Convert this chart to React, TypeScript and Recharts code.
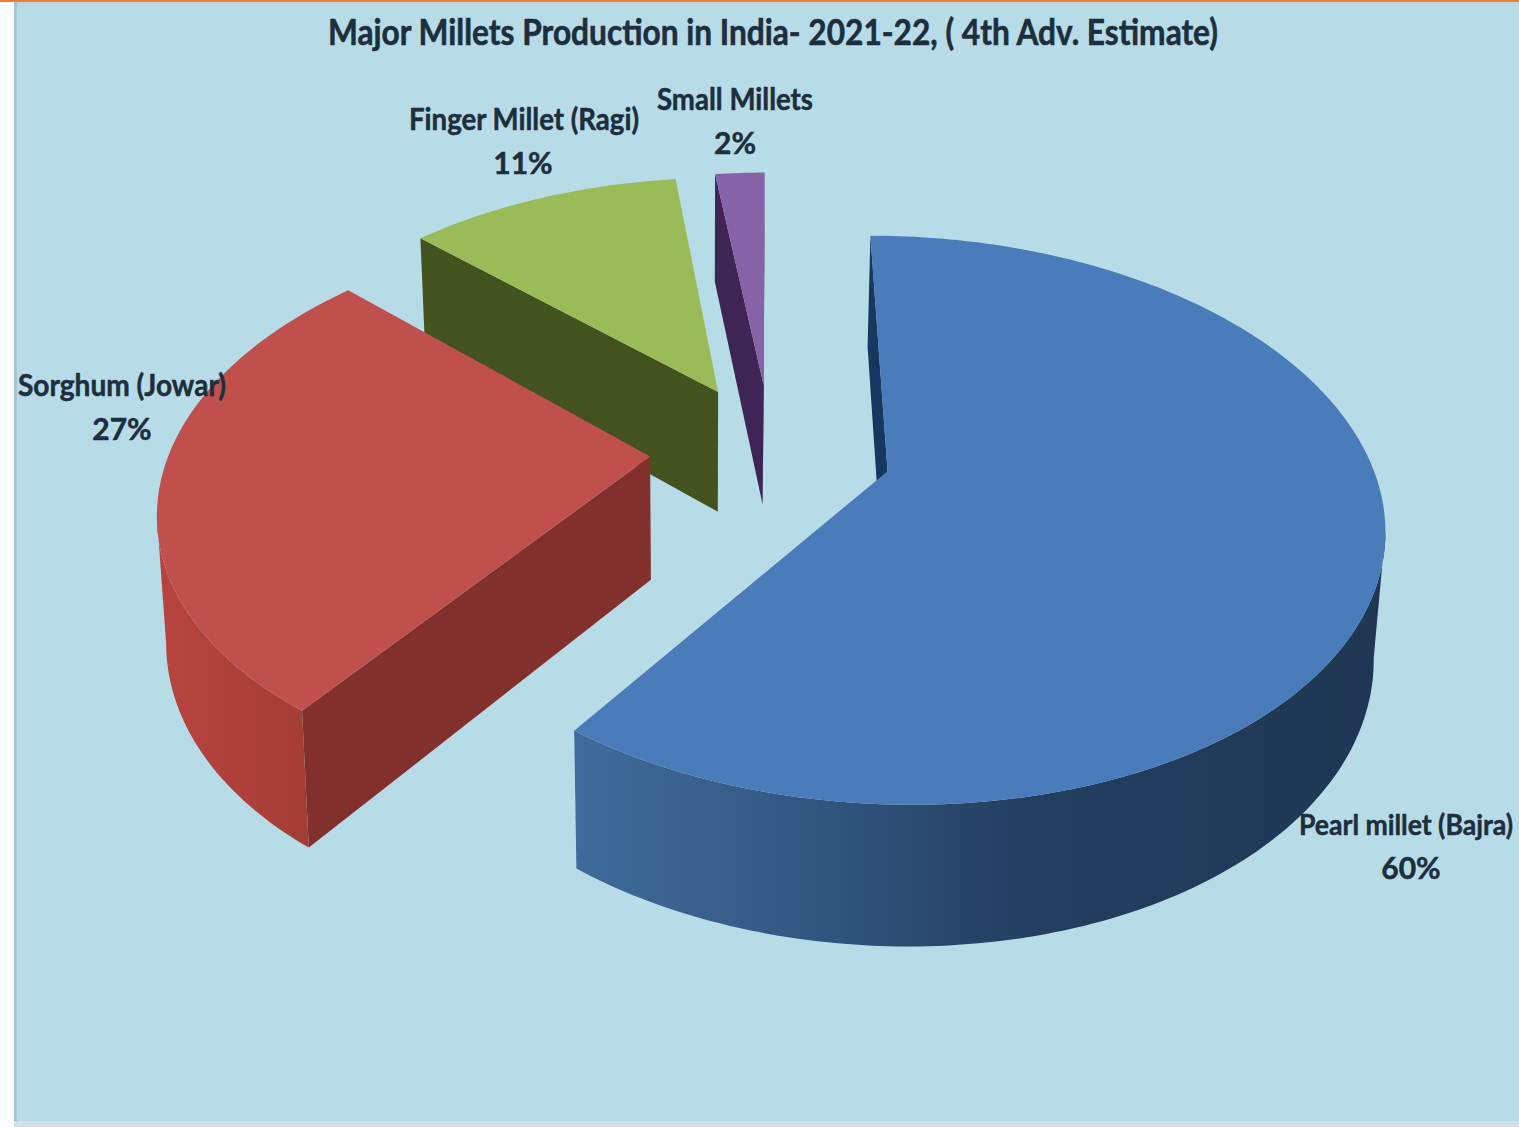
// @ts-nocheck
import { PieChart, Pie } from 'recharts';

// listed back to front, the pie runs counter-clockwise from twelve o'clock
const categories = ['Small Millets', 'Finger Millet (Ragi)', 'Sorghum (Jowar)', 'Pearl millet (Bajra)'];
const shares = [2, 11, 27, 60];

const topColors = ['#8563a6', '#9bbb59', '#c0504d', '#4a7cb9'];
const cutColors = ['#3d2653', '#44531e', '#82302e', '#17375e'];
const rimColors = [
  [['0%', '#604a7b'], ['100%', '#604a7b']],
  [['0%', '#76923c'], ['100%', '#76923c']],
  [['0%', '#b8443e'], ['100%', '#a53d37']],
  [['0%', '#3f6b9c'], ['25%', '#365a85'], ['55%', '#233f60'], ['100%', '#1f3753']],
];

// label text centres and fitted widths
const labelSpots = [
  { x: 735, y: 100, pctX: 735, width: 156, size: 30 },
  { x: 524, y: 120, pctX: 523, width: 230, size: 30 },
  { x: 122, y: 386, pctX: 122, width: 208, size: 30 },
  { x: 1406, y: 825, pctX: 1411, width: 214, size: 28 },
];

const W = 1519;
const H = 1127;
const CX = 771;
const CY = 450;
const RADIUS = 480;

// tilt and perspective of the pie plane
const SQUASH = 0.56;
const PERSPECTIVE = 0.17;
const EXPLODE = 0.252;
const DEPTH = 123;
const VANISH_X = 700;
const CONVERGE = 0.983;

const rad = (deg) => (deg * Math.PI) / 180;

// u, v are plane coordinates in radius units, v grows toward the viewer
const project = (cx, cy, r, u, v) => {
  const k = 1 / (1 - PERSPECTIVE * v);
  return { x: cx + r * u * k, y: cy + r * SQUASH * v * k, k };
};

const drop = (p) => ({
  x: VANISH_X + (p.x - VANISH_X) * CONVERGE,
  y: p.y + DEPTH * Math.pow(p.k, 0.7),
});

const toPath = (pts) =>
  pts.map((p, i) => `${i ? 'L' : 'M'}${p.x.toFixed(1)} ${p.y.toFixed(1)}`).join(' ') + ' Z';

const Slice3D = (props) => {
  const { cx, cy, outerRadius, startAngle, endAngle, midAngle, index } = props;
  const ou = EXPLODE * Math.cos(rad(midAngle));
  const ov = -EXPLODE * Math.sin(rad(midAngle));
  // walk the arc clockwise on screen whichever way the pie runs
  const from = Math.max(startAngle, endAngle);
  const to = Math.min(startAngle, endAngle);

  const apex = project(cx, cy, outerRadius, ou, ov);
  const arc = [];
  const steps = Math.max(4, Math.ceil(from - to));
  for (let i = 0; i <= steps; i++) {
    const a = from + ((to - from) * i) / steps;
    arc.push(project(cx, cy, outerRadius, ou + Math.cos(rad(a)), ov - Math.sin(rad(a))));
  }

  // cut faces that look toward the viewer
  const cuts = [];
  if (apex.x > arc[0].x) cuts.push([apex, arc[0]]);
  const last = arc[arc.length - 1];
  if (last.x > apex.x) cuts.push([last, apex]);

  // the rim is only visible where the arc runs right to left
  const rim = [];
  let run = [];
  for (let i = 1; i < arc.length; i++) {
    if (arc[i].x < arc[i - 1].x) {
      if (!run.length) run.push(arc[i - 1]);
      run.push(arc[i]);
    } else if (run.length) {
      rim.push(run);
      run = [];
    }
  }
  if (run.length) rim.push(run);

  const gradId = `rim-${index}`;
  const rimXs = rim.flat().map((p) => p.x);
  return (
    <g>
      <defs>
        <linearGradient
          id={gradId}
          gradientUnits="userSpaceOnUse"
          x1={rimXs.length ? Math.min(...rimXs) : 0}
          x2={rimXs.length ? Math.max(...rimXs) : 1}
          y1={0}
          y2={0}
        >
          {rimColors[index].map(([offset, color]) => (
            <stop key={offset} offset={offset} stopColor={color} />
          ))}
        </linearGradient>
      </defs>
      {cuts.map(([a, b], i) => (
        <path key={i} d={toPath([a, b, drop(b), drop(a)])} fill={cutColors[index]} />
      ))}
      {rim.map((pts, i) => (
        <path key={i} d={toPath([...pts, ...pts.map(drop).reverse()])} fill={`url(#${gradId})`} />
      ))}
      <path d={toPath([apex, ...arc])} fill={topColors[index]} />
    </g>
  );
};

const textColor = '#1d2e3c';
const labelFont = { fontFamily: 'Lato, sans-serif', fontWeight: 700, fontSize: 30, stroke: textColor, strokeWidth: 0.5 };

const renderLabel = ({ index, name, value }) => {
  const spot = labelSpots[index];
  return (
    <g key={name}>
      <text
        x={spot.x}
        y={spot.y + 10}
        textAnchor="middle"
        fill={textColor}
        textLength={spot.width}
        lengthAdjust="spacingAndGlyphs"
        style={{ ...labelFont, fontSize: spot.size }}
      >
        {name}
      </text>
      <text x={spot.pctX} y={spot.y + 54} textAnchor="middle" fill={textColor} style={labelFont}>
        {value}%
      </text>
    </g>
  );
};

const chartData = categories.map((name, i) => ({ name, value: shares[i] }));

export default function App() {
  return (
    <div style={{ position: 'fixed', left: 0, top: 0, width: W, height: H, background: '#fbfdfe', overflow: 'hidden' }}>
      <div style={{ position: 'absolute', left: 14, top: 0, width: W - 14, height: 1121, background: '#b7dce8', borderLeft: '3px solid #a9c6cf', boxSizing: 'border-box' }} />
      <div style={{ position: 'absolute', left: 14, top: 1121, width: W - 14, height: 6, background: '#d3dfe3' }} />
      <div style={{ position: 'absolute', left: 0, top: 0, width: W, height: 2, background: '#f47b2f' }} />
      <div style={{ position: 'absolute', left: 0, top: 0 }}>
        <PieChart width={W} height={H} margin={{ top: 0, right: 0, bottom: 0, left: 0 }}>
          <Pie
            data={chartData}
            dataKey="value"
            nameKey="name"
            cx={CX}
            cy={CY}
            innerRadius={0}
            outerRadius={RADIUS}
            startAngle={90}
            endAngle={450}
            stroke="none"
            paddingAngle={0}
            shape={Slice3D}
            label={renderLabel}
            labelLine={false}
            isAnimationActive={false}
          />
          <text
            x={773}
            y={45}
            textAnchor="middle"
            fill={textColor}
            textLength={890}
            lengthAdjust="spacingAndGlyphs"
            style={{ fontFamily: 'Lato, sans-serif', fontWeight: 700, fontSize: 36, stroke: textColor, strokeWidth: 0.6 }}
          >
            Major Millets Production in India- 2021-22, ( 4th Adv. Estimate)
          </text>
        </PieChart>
      </div>
    </div>
  );
}
